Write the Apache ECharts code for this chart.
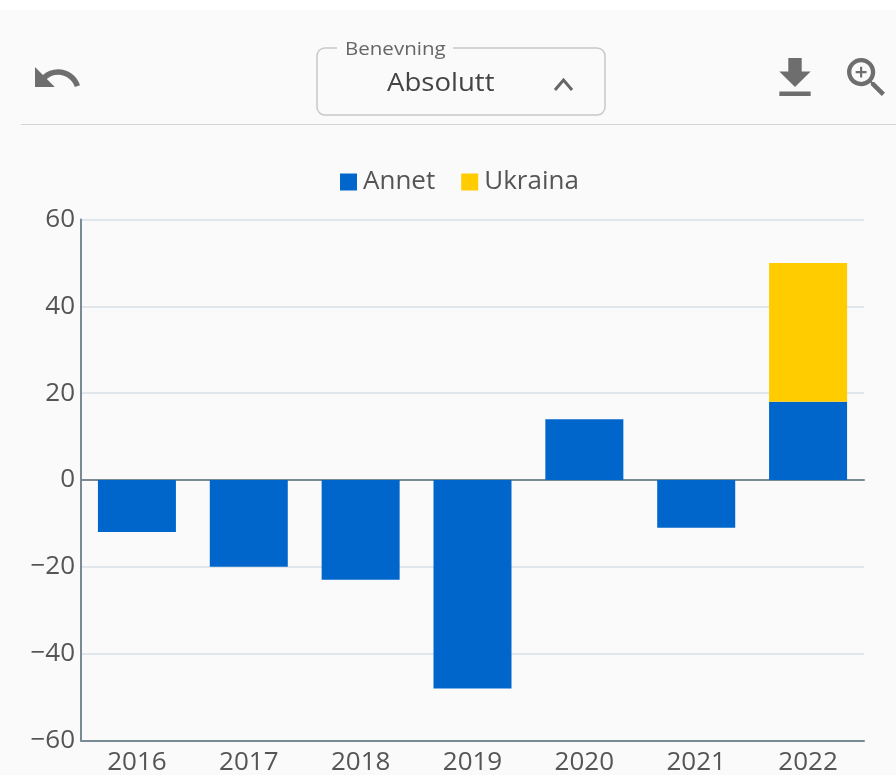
<!DOCTYPE html>
<html><head><meta charset="utf-8">
<style>html,body{margin:0;padding:0;background:#fff}#c{width:896px;height:775px}</style>
<script src="https://cdn.jsdelivr.net/npm/echarts@6/dist/echarts.min.js"></script>
</head><body><div id="c"></div>
<script>
const categories = ['2016','2017','2018','2019','2020','2021','2022'];
const annet = [-12,-20,-23,-48,14,-11,18];
const ukraina = [null,null,null,null,null,null,32];
const selectLabel = 'Benevning';
const selectValue = 'Absolutt';
const FONT = '"Open Sans"';
const GREY = '#6e6e6e';
const chart = echarts.init(document.getElementById('c'), null, {renderer:'canvas'});
function icon(path, x, y, w, h){
  return {type:'path', shape:{pathData:path, x:x, y:y, width:w, height:h, layout:'center'}, style:{fill:GREY}};
}
const icons = [
  icon('M12.5 8c-2.65 0-5.05.99-6.9 2.6L2 7v9h9l-3.62-3.62c1.39-1.16 3.16-1.88 5.12-1.88 3.54 0 6.55 2.31 7.6 5.5l2.37-.78C21.08 11.03 17.15 8 12.5 8z',35,66,45,22),
  icon('M19 9h-4V3H9v6H5l7 7 7-7zM5 18v2h14v-2H5z',778,58,34,38),
  icon('M15.5 14h-.79l-.28-.27C15.41 12.59 16 11.11 16 9.5 16 5.91 13.09 3 9.5 3S3 5.91 3 9.5 5.91 16 9.5 16c1.61 0 3.09-.59 4.23-1.57l.27.28v.79l5 4.99L20.49 19l-4.99-5zm-6 0C7.01 14 5 11.99 5 9.5S7.01 5 9.5 5 14 7.01 14 9.5 11.99 14 9.5 14z M12 10h-2v2H9v-2H7V9h2V7h1v2h2v1z',846,58,40,38)
];
chart.setOption({
  animation:false,
  backgroundColor:'#fff',
  textStyle:{fontFamily:FONT},
  color:['#0066cc','#ffcc00'],
  graphic:[
    {type:'rect', z:-10, shape:{x:0,y:10,width:896,height:765}, style:{fill:'#fafafa'}},
    {type:'rect', shape:{x:21,y:124,width:875,height:1}, style:{fill:'#d4d4d4'}},
    {type:'rect', shape:{x:317,y:48,width:288,height:67,r:8}, style:{fill:'none',stroke:'#c8c8c8',lineWidth:1.5}},
    {type:'rect', shape:{x:337,y:42,width:116,height:12}, style:{fill:'#fafafa'}},
    {type:'text', x:345, y:50, scaleX:1.14, style:{text:selectLabel,font:'18px '+FONT,fill:'#666',verticalAlign:'middle'}},
    {type:'text', x:387, y:84, scaleX:1.06, style:{text:selectValue,font:'26px '+FONT,fill:'#444',verticalAlign:'middle'}},
    {type:'polyline', shape:{points:[[555,90],[563.5,80],[572,90]]}, style:{stroke:'#666',lineWidth:3,fill:'none'}}
  ],
  legend:{
    top:169, left:340, padding:0, itemWidth:17, itemHeight:17, itemGap:26, icon:'rect',
    textStyle:{fontFamily:FONT,fontSize:26,color:'#555',padding:[0,0,0,1]},
    data:['Annet','Ukraina']
  },
  grid:{left:81,top:219.5,width:783,height:521,containLabel:false,outerBoundsMode:'none'},
  xAxis:[
    {type:'category',data:categories,position:'bottom',
     axisLine:{onZero:false,lineStyle:{color:'#7a8a94',width:2}},axisTick:{show:false},
     axisLabel:{fontFamily:FONT,fontSize:26,color:'#555',margin:9,interval:0},splitLine:{show:false}},
    {type:'category',data:categories,position:'top',
     axisLine:{onZero:true,lineStyle:{color:'#7a8a94',width:2}},axisTick:{show:false},axisLabel:{show:false},splitLine:{show:false}}
  ],
  yAxis:{type:'value',min:-60,max:60,interval:20,
    axisLine:{show:true,lineStyle:{color:'#7a8a94',width:2}},axisTick:{show:false},
    axisLabel:{fontFamily:FONT,fontSize:26,color:'#555',margin:6,padding:[3,0,0,0],formatter:v=>String(v).replace('-','\u2212')},
    splitLine:{lineStyle:{color:'#e0e6ea',width:2}}},
  series:[
    {name:'Annet',type:'bar',stack:'a',data:annet,barWidth:78,itemStyle:{color:'#0066cc'}},
    {name:'Ukraina',type:'bar',stack:'a',data:ukraina,barWidth:78,itemStyle:{color:'#ffcc00'}},
    {name:'icons',type:'custom',coordinateSystem:'none',data:[0],silent:true,
     renderItem:()=>({type:'group',children:icons})}
  ]
});
</script></body></html>
